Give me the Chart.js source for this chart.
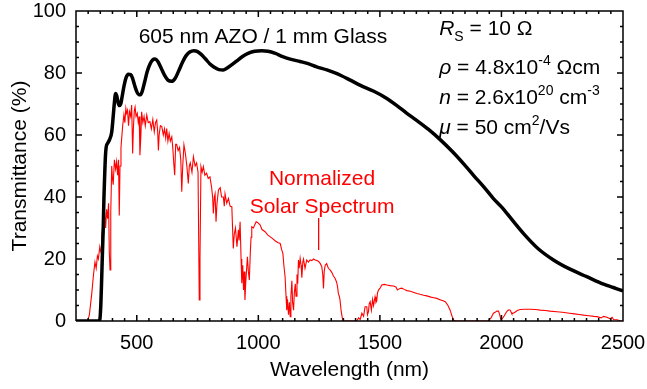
<!DOCTYPE html>
<html>
<head>
<meta charset="utf-8">
<script src="https://cdn.jsdelivr.net/npm/chart.js@4.4.1/dist/chart.umd.min.js"></script>
<style>
  html, body { margin: 0; padding: 0; background: #fff; }
  #wrap { width: 647px; height: 389px; }
</style>
</head>
<body>
<div id="wrap"><canvas id="chart" width="647" height="389"></canvas></div>
<script>
// AZO film on glass, transmittance (%)
const azoWl = [250, 340, 348, 352, 355, 358, 362, 365, 368, 371, 374, 380, 388, 397, 403, 408, 413, 418, 423, 428,
  434, 440, 448, 456, 465, 475, 483, 492, 500, 508, 515, 522, 532, 543, 555, 565, 575, 586, 600, 614,
  628, 644, 658, 672, 688, 703, 718, 735, 750, 765, 782, 800, 820, 838, 856, 870, 890, 910, 935, 960,
  985, 1014, 1040, 1070, 1100, 1135, 1172, 1205, 1240, 1282, 1310, 1340, 1378, 1420, 1473, 1520, 1570, 1611, 1650, 1700,
  1748, 1800, 1850, 1885, 1930, 1967, 2000, 2040, 2091, 2150, 2214, 2280, 2351, 2420, 2460, 2500];
const azoT = [0, 0, 0.5, 5, 12, 20, 30, 40, 47, 53, 56, 57.3, 58.5, 61, 66, 70.5, 73.4, 72.5, 70.5, 69.5,
  70, 72.5, 76, 78.5, 79.6, 79.5, 78.2, 75.8, 74, 73, 73, 74, 77, 80.5, 83, 84.2, 84.5, 83.8, 81.6, 79.3,
  77.7, 77.3, 78.3, 80.6, 83.5, 85.6, 86.8, 87.2, 86.9, 86, 84.6, 83, 81.8, 81.1, 81, 81.5, 82.6, 83.8, 85.3, 86.4,
  87, 87.2, 87, 86.3, 85.3, 84.4, 83.7, 83, 82, 81, 80.2, 79.2, 77.7, 76, 74.2, 72.2, 69.5, 67, 64.8, 61.8,
  58.5, 54.5, 50.2, 47, 43, 39.5, 36.8, 33, 28.2, 23.4, 19.7, 16.8, 14.3, 11.9, 10.8, 9.7];

// normalized solar spectrum (same % scale)
const solarWl = [250, 280, 298, 305, 315, 322, 328, 333, 338, 342, 348, 353, 356, 360, 364, 368, 372, 376, 380, 384,
  387, 390, 393, 397, 400, 403, 408, 413, 417, 421, 425, 428, 431, 435, 438, 442, 447, 451, 455, 458,
  462, 466, 470, 475, 479, 483, 486, 490, 493, 497, 502, 506, 510, 513, 517, 520, 525, 530, 535, 541,
  547, 554, 560, 566, 572, 577, 582, 586, 589, 592, 597, 603, 609, 614, 619, 623, 628, 633, 638, 644,
  648, 653, 656, 660, 664, 670, 676, 681, 685, 689, 694, 700, 706, 712, 716, 720, 727, 733, 740, 746,
  752, 757, 760, 764, 769, 774, 780, 787, 794, 801, 808, 812, 815, 819, 822, 826, 830, 836, 843, 849,
  856, 860, 863, 870, 877, 884, 891, 894, 897, 901, 906, 912, 918, 921, 925, 929, 932, 936, 939, 942,
  945, 948, 952, 955, 959, 963, 967, 970, 973, 980, 985, 991, 998, 1007, 1015, 1028, 1038, 1048, 1060, 1070,
  1080, 1090, 1096, 1101, 1105, 1110, 1114, 1117, 1120, 1124, 1128, 1131, 1134, 1138, 1141, 1145, 1148, 1152, 1155, 1159,
  1162, 1165, 1168, 1172, 1176, 1179, 1183, 1186, 1192, 1199, 1206, 1213, 1220, 1227, 1234, 1241, 1248, 1255, 1261, 1265,
  1268, 1271, 1275, 1281, 1288, 1295, 1302, 1309, 1316, 1322, 1326, 1329, 1333, 1336, 1341, 1347, 1352, 1405, 1412, 1419,
  1426, 1433, 1439, 1446, 1449, 1453, 1456, 1460, 1465, 1470, 1474, 1480, 1484, 1487, 1490, 1494, 1500, 1508, 1518, 1529,
  1542, 1556, 1566, 1572, 1576, 1583, 1590, 1600, 1611, 1625, 1640, 1652, 1665, 1680, 1693, 1710, 1722, 1734, 1750, 1760,
  1769, 1780, 1789, 1797, 1803, 1810, 1945, 1957, 1967, 1974, 1981, 1988, 1993, 1998, 2004, 2011, 2018, 2025, 2031, 2036,
  2040, 2043, 2050, 2057, 2065, 2077, 2095, 2118, 2140, 2160, 2180, 2200, 2228, 2250, 2280, 2300, 2320, 2338, 2360, 2380,
  2393, 2410, 2420, 2434, 2447, 2455, 2461, 2475, 2488, 2500];
const solarT = [0, 0, 0, 2, 9, 15, 19, 17, 21, 20, 24, 22, 27, 31, 28, 35, 30, 36, 33, 38,
  22, 16.5, 35, 50, 46, 44, 52, 49, 51.4, 47, 52, 34, 50, 56, 59, 63, 66.5, 64, 68.6, 67,
  68, 63, 67.5, 66, 69.7, 54, 62, 68, 69, 66, 67, 64, 66, 53.5, 60, 67.5, 64, 66, 63, 66.5,
  64, 64.3, 62, 65, 61, 64, 64.8, 61, 55, 60, 63, 62.7, 60, 62, 59, 62.1, 58, 60.5, 58, 59.4,
  56, 50, 47, 57, 57, 55, 56, 52, 41.7, 50, 56.8, 54, 50, 44.4, 50, 51, 48, 53, 50, 51,
  48, 6.8, 20, 49.8, 48, 49.8, 47, 47.7, 46, 46.5, 43, 40, 34.7, 40, 41, 32, 38, 42.3, 43, 40,
  40, 37, 41, 38, 39.5, 37, 36.9, 30, 23.4, 28, 30, 24, 29.4, 26, 32, 20, 12.2, 18, 10, 16,
  6.8, 12, 17, 20.7, 16, 13.2, 22, 27, 30.4, 30, 31, 32, 31.7, 31, 29.5, 28.8, 27.8, 27.2, 26.5, 25.8,
  25.3, 25, 23, 21.8, 18, 14.3, 8, 3.5, 7, 2, 6, 1.4, 8, 13, 6, 3.5, 9, 12, 8, 15,
  12, 19.7, 17, 20.2, 18, 14, 19, 20, 17, 19.7, 19, 19.7, 19.5, 20, 19.7, 19.5, 19.2, 18.5, 17.5, 15,
  10.5, 16, 18, 18.5, 17, 16.5, 15.7, 14.5, 13.7, 12.5, 11, 8.9, 8, 6.8, 3, 0.3, 0, 0, 1, 0.5,
  2.5, 1.5, 4.6, 4.6, 2, 3, 5.5, 6.2, 3.5, 7, 5, 7.8, 6, 6.5, 9, 10, 10.5, 11.6, 11.8, 11.6,
  11.4, 11.3, 11, 10, 10.2, 10.5, 10.6, 10.2, 9.8, 9.6, 9.2, 8.9, 8.6, 8.3, 8.1, 7.7, 7.5, 7.3, 6.8, 6.5,
  6.2, 5, 3.5, 1.5, 0.3, 0, 0, 1, 2.5, 2.8, 3.2, 3.2, 2, 0.3, 0.8, 1.6, 2.6, 3.3, 3.6, 3.5,
  2.8, 2.3, 2.6, 2.9, 3.4, 3.7, 3.8, 3.8, 3.7, 3.5, 3.4, 3.2, 3, 2.8, 2.5, 2.3, 2.1, 1.9, 1.7, 1.5,
  1.4, 1.0, 1.5, 1.2, 0.7, 1.2, 0.5, 0.4, 0.1, 0];

// pointer from the "Solar Spectrum" label down to the curve
const pointerWl = [1248, 1248];
const pointerT = [33.2, 22.9];

const xTicks = [500, 1000, 1500, 2000, 2500];
const yTicks = [0, 20, 40, 60, 80, 100];
const X_MIN = 250, X_MAX = 2500, Y_MIN = 0, Y_MAX = 100;
const X_MINOR = 50, Y_MINOR = 5;

const FONT = 'Arial, "Liberation Sans", sans-serif';
const toXY = (xs, ys) => xs.map((v, i) => ({ x: v, y: ys[i] }));

// plot box + inward ticks on all four sides, as line segments in axis units
function frameSegments() {
  const pts = [];
  const seg = (x1, y1, x2, y2) => { pts.push({ x: x1, y: y1 }, { x: x2, y: y2 }, { x: x2, y: null }); };
  pts.push({ x: X_MIN, y: Y_MIN }, { x: X_MAX, y: Y_MIN }, { x: X_MAX, y: Y_MAX },
           { x: X_MIN, y: Y_MAX }, { x: X_MIN, y: Y_MIN }, { x: X_MIN, y: null });
  const yLen = px => px / 3.1;    // pixel length -> % units
  const xLen = px => px / 0.243;  // pixel length -> nm
  for (let v = X_MIN + X_MINOR; v < X_MAX; v += X_MINOR) {
    const len = v % 500 === 0 ? 6 : 3;
    seg(v, Y_MIN, v, Y_MIN + yLen(len));
    seg(v, Y_MAX, v, Y_MAX - yLen(len));
  }
  for (let v = Y_MIN + Y_MINOR; v < Y_MAX; v += Y_MINOR) {
    const len = v % 20 === 0 ? 6 : 3;
    seg(X_MIN, v, X_MIN + xLen(len), v);
    seg(X_MAX, v, X_MAX - xLen(len), v);
  }
  return pts;
}

// draw text made of pieces (italic / sub / sup)
function drawRich(ctx, x, y, parts) {
  ctx.fillStyle = '#000';
  ctx.textBaseline = 'alphabetic';
  ctx.textAlign = 'left';
  let cx = x;
  parts.forEach(p => {
    const size = (p.sub || p.sup) ? 14 : 21;
    ctx.font = (p.it ? 'italic ' : '') + size + 'px ' + FONT;
    const dy = p.sub ? 6 : (p.sup ? -9 : 0);
    ctx.fillText(p.t, cx, y + dy);
    cx += ctx.measureText(p.t).width;
  });
}

const labelsPlugin = {
  id: 'labelsPlugin',
  afterDraw(chart) {
    const ctx = chart.ctx;
    const x = chart.scales.x, y = chart.scales.y;
    ctx.save();
    ctx.font = '21px ' + FONT;
    ctx.fillStyle = '#000';
    ctx.textAlign = 'center';
    ctx.textBaseline = 'alphabetic';
    ctx.fillText('605 nm AZO / 1 mm Glass', x.getPixelForValue(1019), y.getPixelForValue(89.7));

    ctx.fillStyle = '#ff0000';
    ctx.fillText('Normalized', x.getPixelForValue(1262), y.getPixelForValue(43.9));
    ctx.fillText('Solar Spectrum', x.getPixelForValue(1262), y.getPixelForValue(34.8));

    const lx = x.getPixelForValue(1744);
    drawRich(ctx, lx, y.getPixelForValue(92.3), [
      { t: 'R', it: true }, { t: 'S', sub: true }, { t: ' = 10 \u03A9' }]);
    drawRich(ctx, lx, y.getPixelForValue(79.7), [
      { t: '\u03C1', it: true }, { t: ' = 4.8x10' }, { t: '-4', sup: true }, { t: ' \u03A9cm' }]);
    drawRich(ctx, lx, y.getPixelForValue(70), [
      { t: 'n', it: true }, { t: ' = 2.6x10' }, { t: '20', sup: true }, { t: ' cm' }, { t: '-3', sup: true }]);
    drawRich(ctx, lx, y.getPixelForValue(60.3), [
      { t: '\u03BC', it: true }, { t: ' = 50 cm' }, { t: '2', sup: true }, { t: '/Vs' }]);
    ctx.restore();
  }
};

new Chart(document.getElementById('chart'), {
  type: 'line',
  data: {
    datasets: [
      {
        label: 'frame',
        data: frameSegments(),
        borderColor: '#000',
        borderWidth: 1.5,
        pointRadius: 0,
        spanGaps: false,
        clip: false,
        order: -1
      },
      {
        label: 'AZO',
        data: toXY(azoWl, azoT),
        borderColor: '#000',
        borderWidth: 3.5,
        pointRadius: 0,
        cubicInterpolationMode: 'monotone',
        order: 0
      },
      {
        label: 'Solar',
        data: toXY(solarWl, solarT),
        borderColor: '#ff0000',
        borderWidth: 1.1,
        pointRadius: 0,
        tension: 0,
        order: 1
      },
      {
        label: 'pointer',
        data: toXY(pointerWl, pointerT),
        borderColor: '#ff0000',
        borderWidth: 1,
        pointRadius: 0,
        order: 2
      }
    ]
  },
  options: {
    responsive: false,
    animation: false,
    devicePixelRatio: 1,
    layout: { padding: { left: 0, top: 11, right: 24, bottom: 0 } },
    plugins: { legend: { display: false }, tooltip: { enabled: false } },
    scales: {
      x: {
        type: 'linear',
        min: X_MIN,
        max: X_MAX,
        afterBuildTicks: s => { s.ticks = xTicks.map(v => ({ value: v })); },
        afterFit: s => { s.height = 68; s.paddingLeft = 0; s.paddingRight = 0; },
        grid: { display: false, drawTicks: false },
        border: { display: false },
        ticks: { padding: 10, color: '#000', font: { family: FONT, size: 20 }, maxRotation: 0, autoSkip: false,
          callback: v => String(v) },
        title: { display: true, text: 'Wavelength (nm)', color: '#000', font: { family: FONT, size: 21 }, padding: { top: 0, bottom: 6 } }
      },
      y: {
        min: Y_MIN,
        max: Y_MAX,
        afterBuildTicks: s => { s.ticks = yTicks.map(v => ({ value: v })); },
        afterFit: s => { s.width = 76; s.paddingTop = 0; s.paddingBottom = 0; },
        grid: { display: false, drawTicks: false },
        border: { display: false },
        ticks: { padding: 10, color: '#000', font: { family: FONT, size: 20 }, callback: v => String(v) },
        title: { display: true, text: 'Transmittance (%)', color: '#000', font: { family: FONT, size: 21 }, padding: { top: 8, bottom: 0 } }
      }
    }
  },
  plugins: [labelsPlugin]
});
</script>
</body>
</html>
